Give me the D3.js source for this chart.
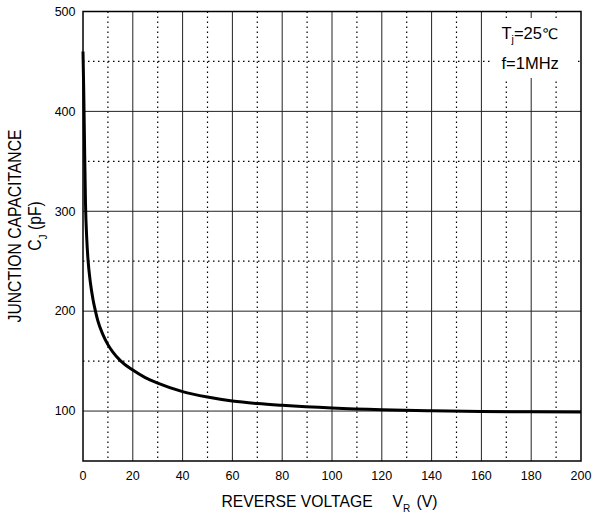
<!DOCTYPE html>
<html>
<head>
<meta charset="utf-8">
<script src="https://cdn.jsdelivr.net/npm/d3@7"></script>
<style>
    body { margin: 0; background: #fff; }
    text { font-family: "Liberation Sans", Arial, sans-serif; fill: #000; }
</style>
</head>
<body>
<svg id="vis" width="592" height="515"></svg>
<script>
// curve
var voltage = [0, 0.3, 0.6, 1, 1.5, 2, 3, 4, 5, 6, 8, 10, 12, 15, 20, 25, 30, 40, 50, 60, 70, 80, 100, 120, 140, 160, 180, 200];
var capacitance = [460, 420, 370, 308, 273, 252, 228, 212, 200, 190, 176.5, 166.5, 159, 150.5, 141, 133.5, 128, 119.5, 114, 110, 107.5, 105.7, 103, 101.3, 100.3, 99.6, 99.2, 99];

var xTicks = [0, 20, 40, 60, 80, 100, 120, 140, 160, 180, 200];
var xMinor = [10, 30, 50, 70, 90, 110, 130, 150, 170, 190];
var yTicks = [100, 200, 300, 400, 500];
var yMinor = [150, 250, 350, 450];

// plot box
var pLeft = 83, pRight = 581, pTop = 11.5, pBottom = 461;

var x = d3.scaleLinear().domain([0, 200]).range([pLeft, pRight]);
var y = d3.scaleLinear().domain([50, 500]).range([pBottom, pTop]);

var vis = d3.select("#vis");

// dotted minor grid
vis.append("g")
    .selectAll("line")
    .data(xMinor)
    .enter()
    .append("line")
    .attr("x1", function (d) { return x(d); })
    .attr("x2", function (d) { return x(d); })
    .attr("y1", pTop)
    .attr("y2", pBottom)
    .attr("stroke", "#000")
    .attr("stroke-width", 1.2)
    .attr("stroke-dasharray", "1.5,3.5");

vis.append("g")
    .selectAll("line")
    .data(yMinor)
    .enter()
    .append("line")
    .attr("x1", pLeft)
    .attr("x2", pRight)
    .attr("y1", function (d) { return y(d); })
    .attr("y2", function (d) { return y(d); })
    .attr("stroke", "#000")
    .attr("stroke-width", 1.2)
    .attr("stroke-dasharray", "1.5,3.5");

// solid major grid
vis.append("g")
    .selectAll("line")
    .data(xTicks.slice(1, -1))
    .enter()
    .append("line")
    .attr("x1", function (d) { return x(d); })
    .attr("x2", function (d) { return x(d); })
    .attr("y1", pTop)
    .attr("y2", pBottom)
    .attr("stroke", "#222")
    .attr("stroke-width", 1);

vis.append("g")
    .selectAll("line")
    .data(yTicks.slice(0, -1))
    .enter()
    .append("line")
    .attr("x1", pLeft)
    .attr("x2", pRight)
    .attr("y1", function (d) { return y(d); })
    .attr("y2", function (d) { return y(d); })
    .attr("stroke", "#222")
    .attr("stroke-width", 1);

// legend box
vis.append("rect")
    .attr("x", 493)
    .attr("y", 18)
    .attr("width", 85)
    .attr("height", 60)
    .style("fill", "#fff");

vis.append("text")
    .attr("x", 501.5)
    .attr("y", 39)
    .style("font-size", "16.5px")
    .call(function (t) {
        t.append("tspan").text("T");
        t.append("tspan").attr("dy", 4).style("font-size", "10.5px").text("j");
        t.append("tspan").attr("dy", -4).text("=25");
        t.append("tspan").style("font-family", "DejaVu Sans").style("font-size", "14.5px").text("\u2103");
    });

vis.append("text")
    .attr("x", 501.5)
    .attr("y", 69)
    .style("font-size", "16.5px")
    .text("f=1MHz");

// frame
vis.append("rect")
    .attr("x", pLeft)
    .attr("y", pTop)
    .attr("width", pRight - pLeft)
    .attr("height", pBottom - pTop)
    .style("fill", "none")
    .attr("stroke", "#000")
    .attr("stroke-width", 1.5);

// curve
var points = voltage.map(function (v, i) { return [v, capacitance[i]]; });
vis.append("path")
    .datum(points)
    .attr("fill", "none")
    .attr("stroke", "#000")
    .attr("stroke-width", 3)
    .attr("d", d3.line()
        .x(function (d) { return x(d[0]); })
        .y(function (d) { return y(d[1]); })
        .curve(d3.curveMonotoneX));

// x axis labels
vis.append("g")
    .selectAll("text")
    .data(xTicks)
    .enter()
    .append("text")
    .attr("x", function (d) { return x(d); })
    .attr("y", 479.5)
    .attr("text-anchor", "middle")
    .style("font-size", "12.5px")
    .text(function (d) { return d; });

// y axis labels
vis.append("g")
    .selectAll("text")
    .data(yTicks)
    .enter()
    .append("text")
    .attr("x", 75.5)
    .attr("y", function (d) { return y(d) + 4.3; })
    .attr("text-anchor", "end")
    .style("font-size", "12.5px")
    .text(function (d) { return d; });

// x title
vis.append("text")
    .attr("x", 221.5)
    .attr("y", 506.5)
    .style("font-size", "15.7px")
    .call(function (t) {
        t.append("tspan").text("REVERSE VOLTAGE");
        t.append("tspan").attr("x", 392.5).text("V");
        t.append("tspan").attr("dy", 5).style("font-size", "10px").text("R");
        t.append("tspan").attr("x", 416.5).attr("dy", -5).text("(V)");
    });

// y title (glyphs a bit taller than wide in the original)
vis.append("text")
    .attr("transform", "translate(21,226) rotate(-90) scale(1,1.12)")
    .attr("text-anchor", "middle")
    .style("font-size", "15.7px")
    .text("JUNCTION CAPACITANCE");

vis.append("text")
    .attr("transform", "translate(41,226) rotate(-90) scale(1,1.12)")
    .attr("text-anchor", "middle")
    .style("font-size", "15.7px")
    .call(function (t) {
        t.append("tspan").text("C");
        t.append("tspan").attr("dy", 5).style("font-size", "10px").text("J");
        t.append("tspan").attr("dy", -5).text(" (pF)");
    });
</script>
</body>
</html>
